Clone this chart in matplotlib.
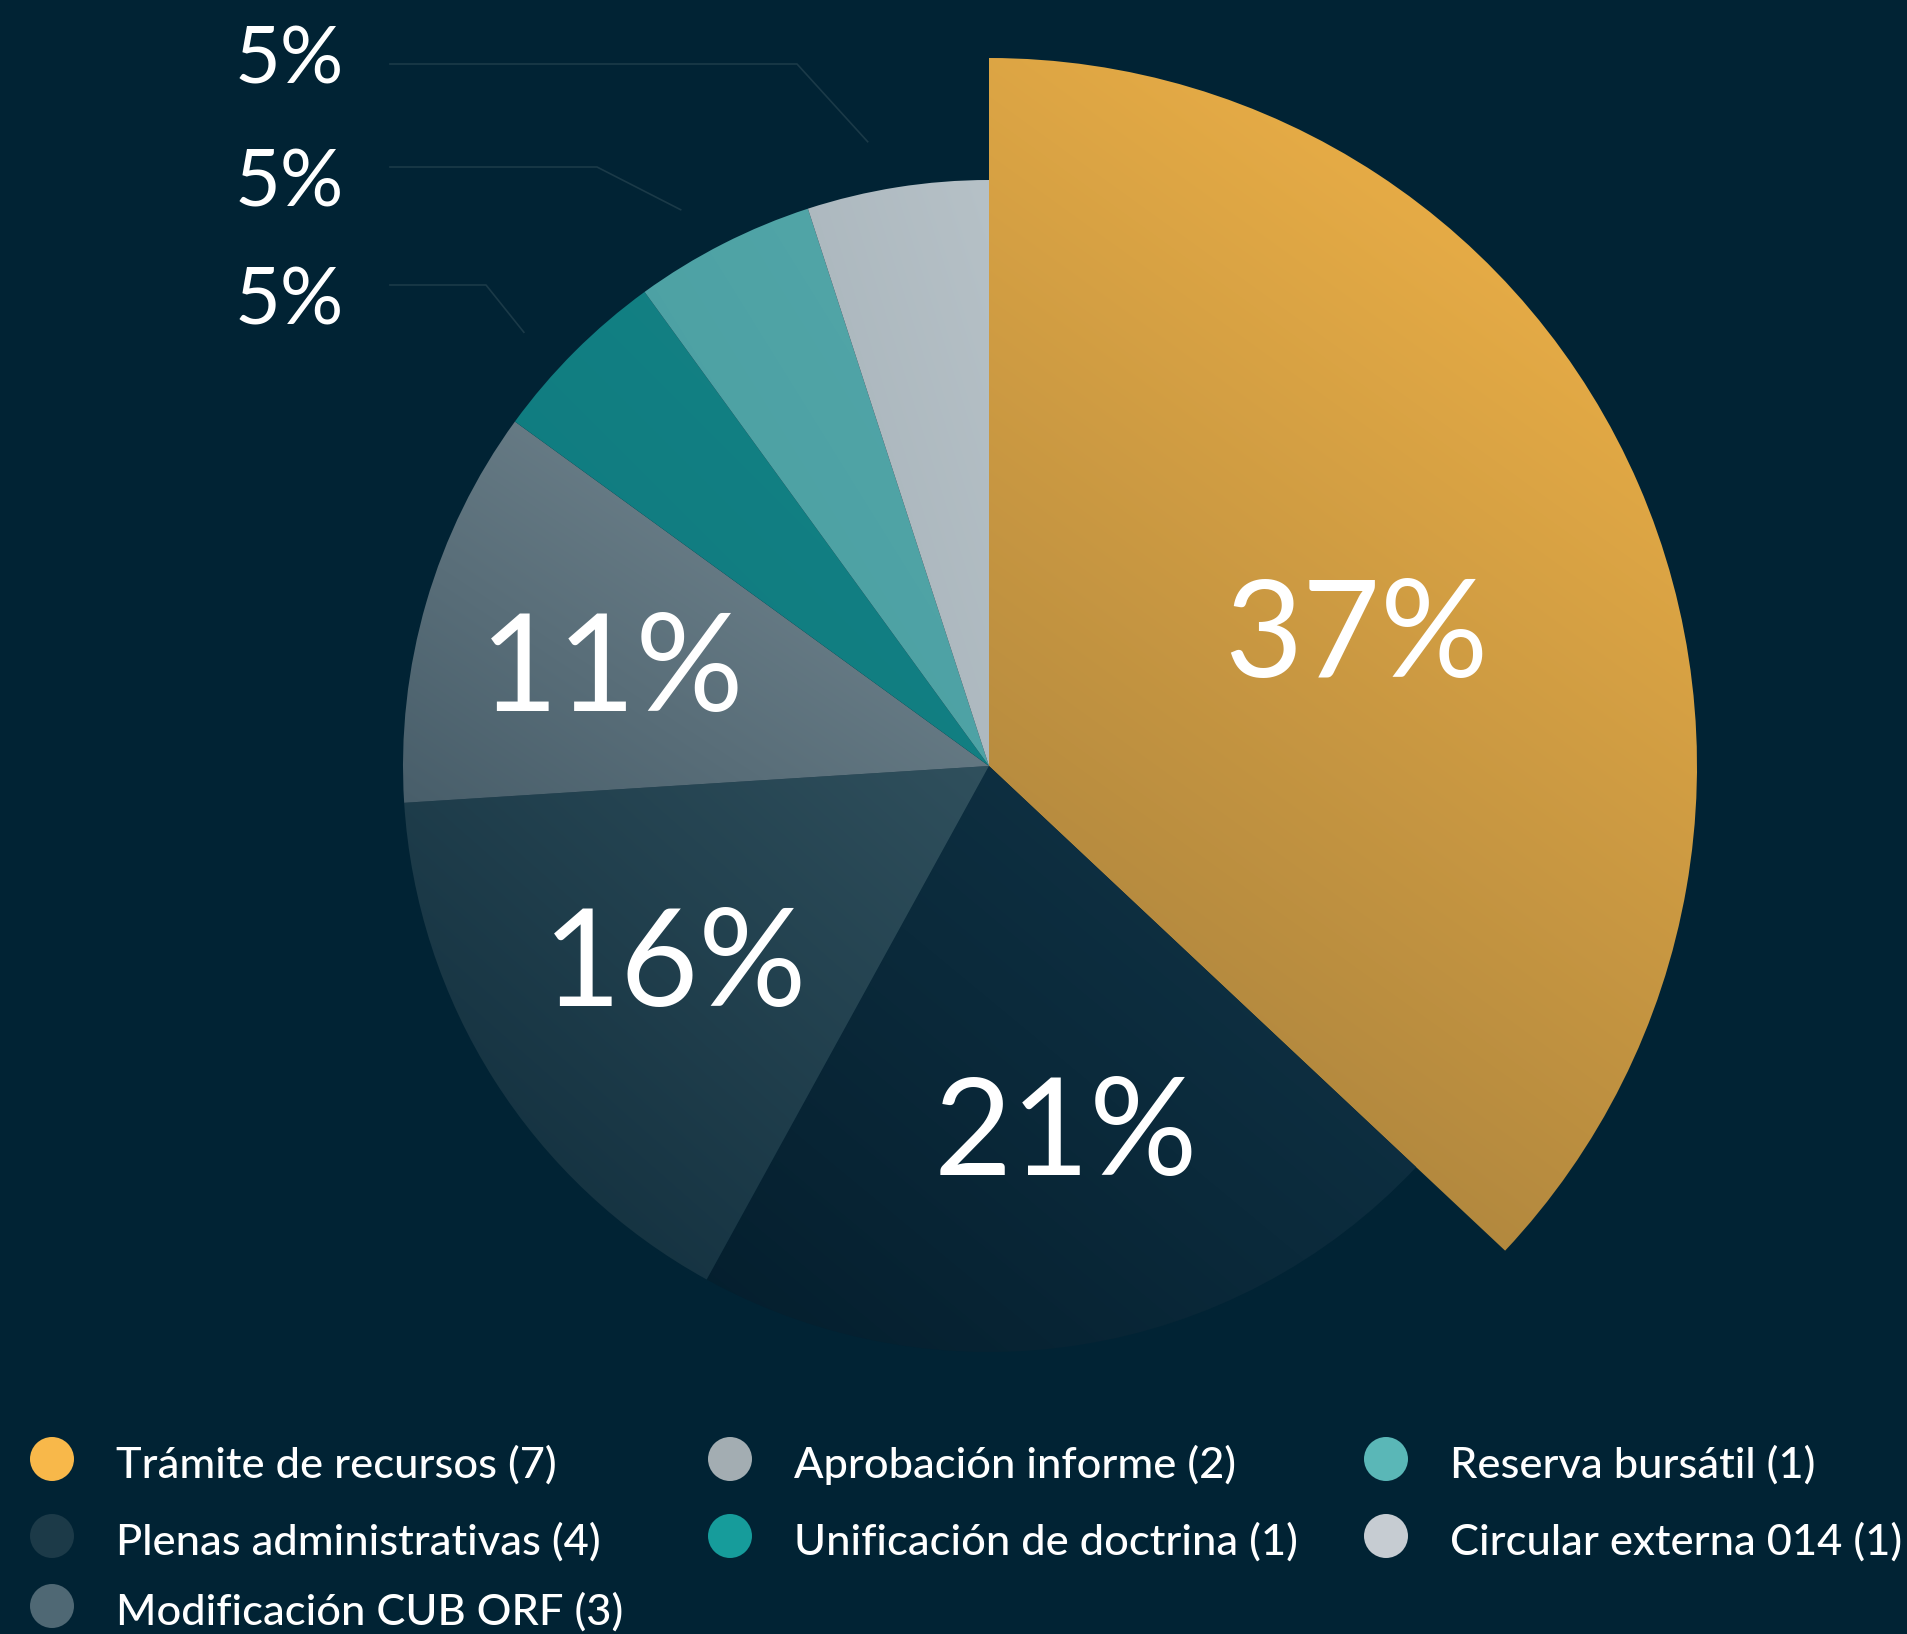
import numpy as np
import matplotlib
matplotlib.use("Agg")
import matplotlib.pyplot as plt
from matplotlib.patches import Wedge, Circle

# data
categories = ["Trámite de recursos", "Plenas administrativas", "Modificación CUB ORF",
              "Aprobación informe", "Unificación de doctrina", "Reserva bursátil",
              "Circular externa 014"]
counts = [7, 4, 3, 2, 1, 1, 1]
percents = [37, 21, 16, 11, 5, 5, 5]

# gradient end colours per slice (bottom-left, top-right)
slice_colors = [("#a07c3c", "#f7b748"), ("#041e2d", "#123649"), ("#0e2b3a", "#30505d"),
                ("#485e6a", "#7a8d96"), ("#0f7a7e", "#148386"), ("#4a9ea1", "#53a7a9"),
                ("#a6b2b9", "#b6c1c7")]
legend_colors = ["#f8b84a", "#1c3a48", "#4f6874", "#a3adb2", "#169c9b", "#5ab7b7", "#c6ccd2"]

BG = "#012334"
W, H = 1907, 1634
cx, cy = 989, H - 766
R_big, R = 708, 586

plt.rcParams['font.family'] = ['Lato', 'DejaVu Sans']

fig = plt.figure(figsize=(W / 100, H / 100), dpi=100)
fig.patch.set_facecolor(BG)
ax = fig.add_axes([0, 0, 1, 1])
ax.set_facecolor(BG)
ax.set_xlim(0, W)
ax.set_ylim(0, H)
ax.axis('off')


def hexrgb(c):
    c = c.lstrip('#')
    return np.array([int(c[i:i + 2], 16) for i in (0, 2, 4)]) / 255.0


# wedges go clockwise from 12 o'clock
angles = []
start = 90.0
for i, p in enumerate(percents):
    sweep = p / 100 * 360
    end = start - sweep
    angles.append((end, start))
    r = R_big if i == 0 else R
    wedge = Wedge((cx, cy), r, end, start, facecolor='none', edgecolor='none')
    ax.add_patch(wedge)

    # bounding box of this wedge
    th = np.deg2rad(np.linspace(end, start, 200))
    px = np.concatenate([[cx], cx + r * np.cos(th)])
    py = np.concatenate([[cy], cy + r * np.sin(th)])
    x0, x1 = px.min() - 2, px.max() + 2
    y0, y1 = py.min() - 2, py.max() + 2

    # linear gradient, dark at bottom-left, light at top-right
    n = 300
    xs = np.linspace(0, 1, n)
    ys = np.linspace(1, 0, n)  # row 0 at top
    X, Y = np.meshgrid(xs, ys)
    if i == 0:
        t = 0.3 * X + 0.7 * Y
    else:
        t = (X + Y) / 2
    c_lo, c_hi = hexrgb(slice_colors[i][0]), hexrgb(slice_colors[i][1])
    img = c_lo[None, None, :] * (1 - t[..., None]) + c_hi[None, None, :] * t[..., None]
    im = ax.imshow(img, extent=(x0, x1, y0, y1), origin='upper', interpolation='bilinear',
                   zorder=2)
    im.set_clip_path(wedge)
    start = end

# percentage labels inside the big slices
label_r = [392, 369, 368, 391]
label_shift = [-3, 3, -1, 1]
cap = 48  # half cap height of the big labels
for i in range(4):
    a0, a1 = angles[i]
    mid = np.deg2rad((a0 + a1) / 2 + label_shift[i])
    ax.text(cx + label_r[i] * np.cos(mid), cy + label_r[i] * np.sin(mid) - cap,
            f"{percents[i]}%", ha='center', va='baseline', color='white', fontsize=97,
            fontweight='normal', zorder=5)

# small slices: labels at top-left with leader lines towards the slices
leader_r = 636
elbow_x = [797, 597, 486]
label_y = [H - 55, H - 178, H - 296]
line_y = [H - 64, H - 167, H - 285]
for k, idx in enumerate([6, 5, 4]):
    ax.text(289, label_y[k] - 28, f"{percents[idx]}%", ha='center', va='baseline',
            color='white', fontsize=57, fontweight='normal', zorder=5)
    a0, a1 = angles[idx]
    a = np.deg2rad((a0 + a1) / 2 + 2)
    ex, ey = cx + leader_r * np.cos(a), cy + leader_r * np.sin(a)
    ax.plot([390, elbow_x[k], ex], [line_y[k], line_y[k], ey], color="#1b3a48", lw=1.2,
            zorder=4)

# legend, filled column by column
col_x = [52, 730, 1386]
row_y = [H - 1459, H - 1536, H - 1606]
slots = [(0, 0), (0, 1), (0, 2), (1, 0), (1, 1), (2, 0), (2, 1)]
for idx, (c, rr) in enumerate(slots):
    x, y = col_x[c], row_y[rr]
    ax.add_patch(Circle((x, y), 22, facecolor=legend_colors[idx], edgecolor='none', zorder=5))
    ax.text(x + 64, y - 6, f"{categories[idx]} ({counts[idx]})", ha='left', va='center',
            color='white', fontsize=31.2, fontweight='medium', zorder=5)

fig.savefig("out.png", dpi=100, facecolor=BG)
